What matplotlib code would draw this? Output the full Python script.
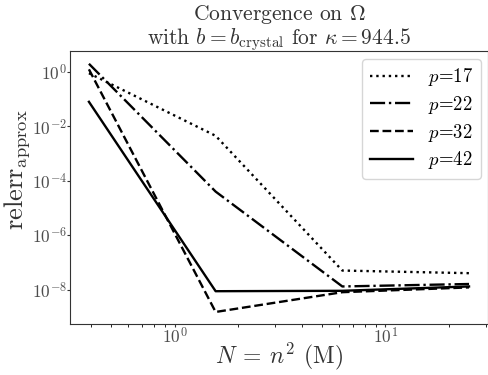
import matplotlib
matplotlib.use("Agg")
import matplotlib.pyplot as plt

plt.rcParams['font.family'] = 'serif'
plt.rcParams['font.serif'] = ['cmr10']
plt.rcParams['mathtext.fontset'] = 'cm'
plt.rcParams['axes.unicode_minus'] = False
plt.rcParams['axes.formatter.use_mathtext'] = True

N = [0.390625, 1.5625, 6.25, 25.0]
p_labels = ['17', '22', '32', '42']
err_p17 = [0.9, 4.5e-3, 5.0e-8, 4.0e-8]
err_p22 = [2.0, 4.0e-5, 1.3e-8, 1.6e-8]
err_p32 = [1.25, 1.5e-9, 8.0e-9, 1.2e-8]
err_p42 = [0.08, 8.7e-9, 9.0e-9, 1.3e-8]
series = [err_p17, err_p22, err_p32, err_p42]
styles = [':', '-.', '--', '-']
title_line1 = 'Convergence on $\\Omega$'
title_line2 = 'with $b=b_{\\mathrm{crystal}}$ for $\\kappa=944.5$'

fig = plt.figure(figsize=(4.89, 3.75), dpi=100)
ax = fig.add_axes([0.143, 0.135, 0.855, 0.728])
for vals, ls, lab in zip(series, styles, p_labels):
    ax.plot(N, vals, ls=ls, color='black', lw=1.7, label=r'$p$=' + lab)
ax.set_xscale('log')
ax.set_yscale('log')
for s in ax.spines.values():
    s.set_color('0.2')
ax.tick_params(colors='0.2', labelsize=12.5, labelcolor='0.3', length=2.5)
ax.tick_params(axis='x', pad=-1)
ax.tick_params(axis='y', pad=-0.5)
ax.set_xlabel(r'$N\:=\:n^2$ (M)', fontsize=17, color='0.2', labelpad=-4.5)
ax.set_ylabel(r'$\mathrm{relerr}_{\mathrm{approx}}$', fontsize=19, color='0.2')
ax.yaxis.set_label_coords(-0.09, 0.565)
xc = 0.143 + 0.855 / 2
fig.text(xc, 1 - 20 / 375, title_line1, ha='center', va='baseline', fontsize=15.5, color='0.2')
fig.text(xc, 1 - 44 / 375, title_line2, ha='center', va='baseline', fontsize=15.5, color='0.2')
ax.legend(loc='upper right', fontsize=13.5, fancybox=True, framealpha=0.8,
          labelspacing=0.3, handlelength=2.3, borderaxespad=0.4)
fig.savefig('out.png', dpi=100)
